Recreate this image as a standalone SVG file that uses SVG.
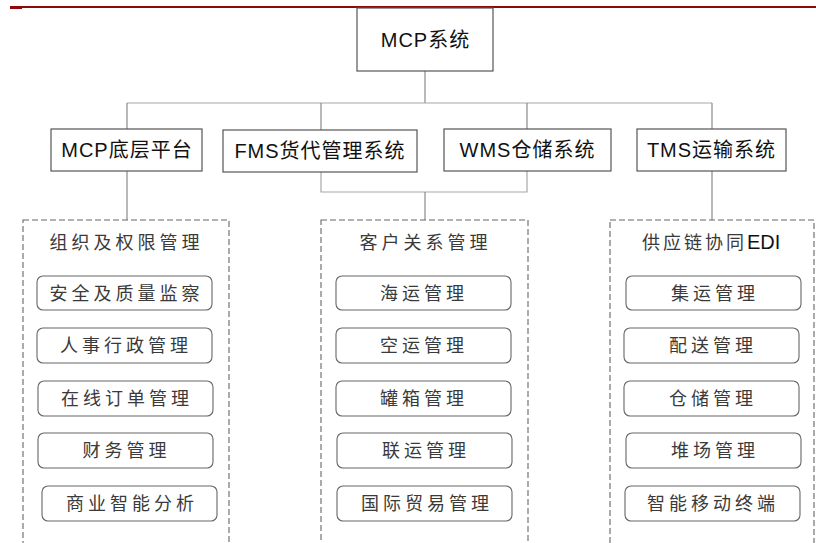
<svg xmlns="http://www.w3.org/2000/svg" width="816" height="543" viewBox="0 0 816 543">
<style>
.bg{fill:#ffffff}
.box{fill:#ffffff;stroke:#555555;stroke-width:1.2}
.dash{fill:none;stroke:#666666;stroke-width:1.1;stroke-dasharray:6 3}
.item{fill:#ffffff;stroke:#666666;stroke-width:1.1}
.conn{fill:none;stroke:#8a8a8a;stroke-width:1.2}
.connl{fill:none;stroke:#a8a8a8;stroke-width:1.2}
.top{font-family:"Liberation Sans","Noto Sans CJK SC",sans-serif;font-size:20px;fill:#111111;text-anchor:middle;letter-spacing:1px}
.cn{font-family:"Noto Sans CJK SC","Liberation Sans",sans-serif;font-size:18px;font-weight:400;fill:#3a3a3a;text-anchor:middle;letter-spacing:4px}
</style>
<rect class="bg" x="0" y="0" width="816" height="543"/>
<g id="header-rule">
<rect x="10" y="6" width="806" height="2" fill="#8b0a0a"/>
<rect x="10" y="6" width="12" height="3" fill="#8b0a0a"/>
</g>
<g id="connectors">
<path class="conn" d="M425,71 V103"/>
<path class="connl" d="M127,103 H712"/>
<path class="conn" d="M127,103 V129 M321,103 V130 M527,103 V129 M712,103 V129"/>
<path class="conn" d="M127,171 V220"/>
<path class="connl" d="M321,172 V192 H527 V171"/>
<path class="conn" d="M425,192 V220"/>
<path class="conn" d="M712,171 V220"/>
</g>
<g id="node-mcp">
<rect class="box" x="357" y="8" width="136" height="63"/>
<text class="top" x="425.5" y="47">MCP系统</text>
</g>
<g id="node-base">
<rect class="box" x="51" y="129" width="151" height="42"/>
<text class="top" x="127" y="157">MCP底层平台</text>
</g>
<g id="node-fms">
<rect class="box" x="223" y="130" width="194" height="42"/>
<text class="top" x="320" y="158">FMS货代管理系统</text>
</g>
<g id="node-wms">
<rect class="box" x="444" y="129" width="167" height="42"/>
<text class="top" x="527.5" y="157">WMS仓储系统</text>
</g>
<g id="node-tms">
<rect class="box" x="637" y="129" width="149" height="42"/>
<text class="top" x="711.5" y="157">TMS运输系统</text>
</g>
<g id="group-org">
<rect class="dash" x="23" y="220" width="206" height="340"/>
<text class="cn" x="126.5" y="249">组织及权限管理</text>
</g>
<g id="item-safety"><rect class="item" x="37" y="276" width="175" height="34" rx="6"/><text class="cn" x="126.5" y="299.5">安全及质量监察</text></g>
<g id="item-hr"><rect class="item" x="37" y="328" width="175" height="35" rx="6"/><text class="cn" x="126" y="352">人事行政管理</text></g>
<g id="item-order"><rect class="item" x="38" y="381" width="175" height="35" rx="6"/><text class="cn" x="127" y="405">在线订单管理</text></g>
<g id="item-finance"><rect class="item" x="38" y="433" width="175" height="35" rx="6"/><text class="cn" x="126.5" y="457">财务管理</text></g>
<g id="item-bi"><rect class="item" x="42" y="486" width="175" height="35" rx="6"/><text class="cn" x="132" y="510">商业智能分析</text></g>
<g id="group-crm">
<rect class="dash" x="321" y="220" width="207" height="340"/>
<text class="cn" x="425.5" y="249">客户关系管理</text>
</g>
<g id="item-sea"><rect class="item" x="336" y="276" width="175" height="34" rx="6"/><text class="cn" x="424" y="299.5">海运管理</text></g>
<g id="item-air"><rect class="item" x="336" y="328" width="175" height="35" rx="6"/><text class="cn" x="424" y="352">空运管理</text></g>
<g id="item-tank"><rect class="item" x="336" y="381" width="175" height="35" rx="6"/><text class="cn" x="424" y="405">罐箱管理</text></g>
<g id="item-multi"><rect class="item" x="337" y="433" width="175" height="35" rx="6"/><text class="cn" x="426" y="457">联运管理</text></g>
<g id="item-trade"><rect class="item" x="337" y="486" width="175" height="35" rx="6"/><text class="cn" x="427" y="510">国际贸易管理</text></g>
<g id="group-edi">
<rect class="dash" x="610" y="220" width="204" height="340"/>
<text x="642" y="249" style="font-family:'Noto Sans CJK SC','Liberation Sans',sans-serif;font-size:18px;font-weight:400;fill:#3a3a3a;letter-spacing:3px">供应链协同<tspan style="font-family:'Liberation Sans',sans-serif;font-size:20px;font-weight:400;fill:#111111;letter-spacing:0px">EDI</tspan></text>
</g>
<g id="item-consol"><rect class="item" x="626" y="276" width="175" height="34" rx="6"/><text class="cn" x="715" y="299.5">集运管理</text></g>
<g id="item-dist"><rect class="item" x="624" y="328" width="175" height="35" rx="6"/><text class="cn" x="713" y="352">配送管理</text></g>
<g id="item-wh"><rect class="item" x="624" y="381" width="175" height="35" rx="6"/><text class="cn" x="713" y="405">仓储管理</text></g>
<g id="item-yard"><rect class="item" x="626" y="433" width="175" height="35" rx="6"/><text class="cn" x="715" y="457">堆场管理</text></g>
<g id="item-mobile"><rect class="item" x="625" y="486" width="175" height="35" rx="6"/><text class="cn" x="713" y="510">智能移动终端</text></g>
</svg>
